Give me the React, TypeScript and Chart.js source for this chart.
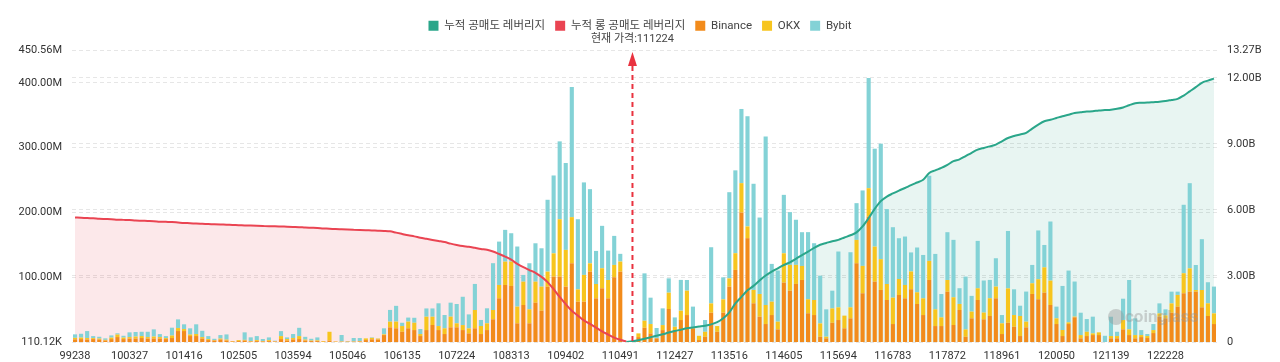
import React, { useEffect, useRef } from "react";
import { Chart, registerables } from "chart.js";

Chart.register(...registerables);

// ---------- data ----------
const CATEGORIES = [
  99238, 99359, 99480, 99601, 99722, 99843, 99964, 100085, 100206,
  100327, 100448, 100569, 100690, 100811, 100932, 101053, 101174, 101295,
  101416, 101537, 101658, 101779, 101900, 102021, 102142, 102263, 102384,
  102505, 102626, 102747, 102868, 102989, 103110, 103231, 103352, 103473,
  103594, 103715, 103836, 103957, 104078, 104320, 104441, 104683, 104925,
  105046, 105167, 105288, 105409, 105530, 105651, 105772, 105893, 106014,
  106135, 106256, 106377, 106498, 106619, 106740, 106861, 106982, 107103,
  107224, 107345, 107466, 107587, 107708, 107829, 107950, 108071, 108192,
  108313, 108434, 108555, 108676, 108797, 108918, 109039, 109160, 109281,
  109402, 109523, 109644, 109765, 109886, 110007, 110128, 110249, 110370,
  110491, 110612, 111217, 111701, 111822, 111943, 112064, 112185, 112306,
  112427, 112548, 112669, 112790, 112911, 113032, 113153, 113274, 113395,
  113516, 113637, 113758, 113879, 114000, 114121, 114242, 114363, 114484,
  114605, 114726, 114847, 114968, 115089, 115210, 115331, 115452, 115573,
  115694, 115815, 115936, 116057, 116178, 116299, 116420, 116541, 116662,
  116783, 116904, 117025, 117146, 117267, 117388, 117509, 117630, 117751,
  117872, 117993, 118114, 118235, 118356, 118477, 118598, 118719, 118840,
  118961, 119082, 119203, 119324, 119445, 119566, 119687, 119808, 119929,
  120050, 120171, 120292, 120413, 120534, 120655, 120776, 120897, 121018,
  121139, 121260, 121381, 121502, 121623, 121744, 121865, 121986, 122107,
  122228, 122349, 122470, 122591, 122712, 122833, 122954, 123075, 123196,
];

// liquidation volume per price level, millions USD
const BINANCE = [
  4.2, 4.6, 3.9, 4.6, 3.9, 2.3, 4.6, 7.7, 4.6,
  5.4, 5.4, 6.2, 5.4, 5.4, 5.4, 4.6, 6.2, 17.0,
  17.0, 9.3, 9.3, 5.4, 3.1, 2.3, 3.9, 2.3, 0.8,
  1.5, 2.3, 0.8, 1.5, 0.8, 1.5, 0.8, 4.6, 2.3,
  3.9, 4.6, 2.3, 1.5, 1.5, 0.5, 2.3, 0.5, 0.5,
  0.5, 0.5, 0.8, 3.1, 4.2, 3.9, 10.8, 22.7, 21.2,
  15.9, 21.2, 18.5, 9.3, 18.5, 26.3, 18.5, 12.4, 22.7,
  22.7, 18.5, 13.4, 21.2, 12.4, 18.5, 35.1, 67.5, 88.1,
  86.6, 28.9, 57.2, 28.9, 60.7, 48.4, 85.5, 100.9, 100.9,
  85.5, 121.6, 62.3, 62.3, 108.7, 67.5, 83.0, 67.5, 100.0,
  108.7, 0, 0, 7.7, 22.1, 13.4, 5.7, 18.5, 51.0,
  18.5, 34.0, 41.7, 21.2, 3.1, 8.2, 45.3, 15.9, 45.3,
  85.5, 111.3, 199.9, 160.3, 59.8, 39.1, 27.8, 41.7, 19.6,
  91.7, 79.3, 89.7, 95.8, 44.4, 41.7, 8.2, 5.7, 29.8,
  34.0, 21.2, 36.6, 121.6, 75.3, 193.7, 93.2, 80.4, 64.9,
  27.8, 72.6, 67.5, 81.5, 58.7, 41.7, 95.8, 24.7, 24.7,
  77.7, 26.3, 49.5, 8.2, 36.6, 64.9, 35.1, 40.2, 67.5,
  12.4, 29.8, 23.6, 9.3, 22.7, 74.2, 66.0, 76.2, 57.2,
  27.8, 9.3, 27.8, 38.2, 5.7, 9.3, 10.8, 10.8, 0,
  5.7, 5.7, 19.6, 10.8, 5.7, 7.7, 6.2, 13.9, 39.1,
  36.6, 45.3, 54.6, 75.3, 77.7, 77.7, 53.6, 40.2, 27.8,
];

const OKX = [
  2.3, 2.3, 2.3, 1.5, 1.5, 1.1, 2.3, 3.9, 2.3,
  2.3, 3.1, 3.1, 2.3, 3.1, 2.3, 1.5, 3.9, 4.6,
  3.1, 2.3, 3.1, 2.3, 1.5, 0.8, 1.5, 1.5, 0.8,
  1.5, 1.1, 0.8, 1.5, 0.8, 1.5, 0.5, 4.6, 2.3,
  2.3, 4.6, 1.5, 0.8, 1.1, 1.1, 13.6, 0.6, 0.5,
  0.5, 0.5, 0.8, 2.6, 2.3, 1.5, 1.1, 8.8, 10.4,
  8.8, 10.4, 11.3, 3.1, 20.6, 12.8, 6.2, 8.8, 16.5,
  6.2, 7.7, 7.7, 28.3, 12.4, 10.4, 14.4, 20.6, 36.0,
  37.6, 25.8, 36.0, 21.6, 32.5, 37.1, 23.2, 36.0, 88.6,
  56.7, 71.1, 19.0, 41.3, 12.8, 22.1, 30.9, 28.3, 19.0,
  15.5, 0, 0, 5.7, 10.8, 14.4, 0.5, 7.7, 25.2,
  5.1, 14.4, 37.6, 0, 6.6, 7.7, 14.4, 8.8, 20.6,
  12.8, 25.8, 45.3, 18.1, 20.6, 35.1, 29.4, 20.6, 11.9,
  45.3, 39.7, 29.4, 21.6, 21.6, 23.2, 20.6, 2.6, 22.1,
  19.6, 19.6, 17.0, 36.0, 42.2, 43.7, 54.1, 47.5, 24.7,
  40.7, 24.7, 20.6, 27.4, 18.1, 25.8, 29.4, 25.8, 13.4,
  18.1, 42.8, 9.3, 11.3, 10.4, 18.1, 10.4, 27.4, 18.1,
  16.5, 53.0, 18.1, 30.9, 8.8, 16.5, 30.9, 39.1, 37.6,
  8.8, 9.3, 2.6, 1.1, 5.1, 6.6, 2.6, 4.2, 0,
  3.6, 3.6, 14.4, 8.8, 5.1, 3.1, 3.1, 4.6, 5.1,
  4.6, 14.4, 18.1, 30.9, 36.0, 2.6, 26.7, 19.6, 16.5,
];

const BYBIT = [
  5.4, 5.9, 10.8, 3.1, 2.8, 2.3, 3.4, 1.9, 2.8,
  7.3, 7.0, 6.6, 8.2, 11.1, 4.6, 3.1, 12.1, 13.4,
  7.3, 9.6, 15.0, 9.7, 4.6, 2.0, 5.4, 8.0, 0,
  0, 11.6, 5.7, 6.2, 3.1, 4.2, 0.8, 7.7, 2.6,
  6.2, 12.8, 4.3, 2.8, 4.6, 0, 0, 0, 9.9,
  0.6, 5.3, 4.6, 0, 0.8, 0.3, 9.3, 18.1, 24.3,
  5.1, 6.2, 7.7, 7.7, 12.8, 12.8, 35.1, 20.6, 21.6,
  29.8, 43.7, 21.6, 40.2, 9.3, 23.2, 72.2, 66.9, 49.0,
  43.7, 92.7, 10.4, 71.1, 59.2, 59.2, 110.8, 120.1, 120.1,
  134.0, 200.9, 108.2, 142.7, 114.4, 51.0, 65.4, 45.3, 44.8,
  11.9, 0, 0, 0, 73.1, 40.7, 15.5, 25.8, 22.1,
  14.4, 47.5, 16.5, 33.5, 0, 18.1, 86.6, 0, 34.0,
  132.9, 127.8, 114.4, 170.0, 163.8, 117.9, 260.1, 58.3, 78.8,
  90.1, 81.5, 69.6, 52.1, 103.6, 87.6, 73.7, 42.2, 27.4,
  86.1, 0, 85.0, 56.7, 116.4, 170.0, 151.0, 178.2, 115.5,
  108.7, 62.9, 74.7, 29.4, 69.1, 66.9, 131.4, 85.5, 36.0,
  73.7, 88.6, 24.3, 81.5, 24.3, 73.1, 49.5, 28.3, 43.7,
  12.8, 88.6, 39.7, 15.9, 46.4, 28.3, 75.3, 34.5, 91.2,
  18.1, 68.0, 79.9, 54.1, 34.5, 19.6, 25.8, 0, 9.7,
  29.8, 6.6, 32.9, 76.2, 25.8, 7.7, 3.1, 9.3, 15.5,
  9.3, 18.1, 5.1, 105.6, 131.4, 38.6, 78.4, 32.5, 41.3,
];

// cumulative long leverage (billions), from the first category up to index 91
const CUM_LONG = [
  5.66, 5.65, 5.63, 5.62, 5.60, 5.59, 5.58, 5.56, 5.55,
  5.54, 5.52, 5.51, 5.50, 5.49, 5.47, 5.46, 5.45, 5.43,
  5.41, 5.40, 5.38, 5.37, 5.36, 5.35, 5.34, 5.33, 5.32,
  5.31, 5.30, 5.29, 5.28, 5.27, 5.26, 5.26, 5.25, 5.24,
  5.23, 5.22, 5.20, 5.19, 5.18, 5.16, 5.15, 5.13, 5.12,
  5.11, 5.10, 5.09, 5.08, 5.07, 5.06, 5.05, 5.03, 4.97,
  4.91, 4.85, 4.80, 4.74, 4.69, 4.64, 4.59, 4.54, 4.47,
  4.41, 4.36, 4.33, 4.28, 4.23, 4.19, 4.11, 4.00, 3.88,
  3.74, 3.55, 3.40, 3.27, 3.14, 2.96, 2.72, 2.40, 2.05,
  1.72, 1.42, 1.20, 0.98, 0.82, 0.65, 0.48, 0.34, 0.20,
  0.10, 0.02,
];

// cumulative short leverage (billions), starting at category index SHORT_START
const SHORT_START = 91;
const CUM_SHORT = [
  0.0, 0.03, 0.08, 0.15, 0.22, 0.28, 0.35, 0.43,
  0.50, 0.56, 0.62, 0.66, 0.70, 0.74, 0.80, 0.90, 1.08,
  1.35, 1.75, 2.05, 2.35, 2.55, 2.80, 3.02, 3.20, 3.35,
  3.50, 3.62, 3.78, 3.95, 4.11, 4.28, 4.42, 4.50, 4.58,
  4.64, 4.75, 4.85, 4.98, 5.25, 5.63, 6.05, 6.40, 6.61,
  6.75, 6.88, 7.00, 7.13, 7.25, 7.37, 7.68, 7.80, 7.91,
  8.05, 8.22, 8.30, 8.45, 8.60, 8.74, 8.82, 8.89, 8.97,
  9.12, 9.27, 9.36, 9.43, 9.50, 9.70, 9.88, 10.03, 10.10,
  10.18, 10.26, 10.33, 10.41, 10.44, 10.47, 10.49, 10.52, 10.54,
  10.56, 10.60, 10.66, 10.76, 10.85, 10.87, 10.88, 10.90, 10.92,
  10.95, 11.00, 11.05, 11.20, 11.39, 11.58, 11.78, 11.88, 11.97,
];

const LEFT_TICKS = [0.11012, 100, 200, 300, 400, 450.56]; // millions
const RIGHT_TICKS = [0, 3, 6, 9, 12, 13.27]; // billions
const LABEL_EVERY = 9;
const CURRENT_PRICE = 111224;

const SERIES_NAMES = ["누적 공매도 레버리지", "누적 롱 공매도 레버리지", "Binance", "OKX", "Bybit"];
const CURRENT_LABEL = "현재 가격:";

// ---------- styles ----------
const FONT = "Roboto, 'Noto Sans CJK KR', 'Noto Sans', sans-serif";
const C_GREEN = "#2aa68a";
const C_GREEN_FILL = "rgba(42,166,138,0.11)";
const C_RED = "#ea4452";
const C_RED_FILL = "rgba(234,68,82,0.12)";
const C_BINANCE = "#f28b1b";
const C_OKX = "#f7c51e";
const C_BYBIT = "#83d2d6";
const C_MARK = "#e9323f";

const fmtLeft = (v: number) => (v < 1 ? (v * 1000).toFixed(2) + "K" : v.toFixed(2) + "M");
const fmtRight = (v: number) => (v === 0 ? "0" : v.toFixed(2) + "B");

const legendSpacer = {
  id: "legendSpacer",
  afterInit(chart: any) {
    const legend = chart.legend;
    if (!legend || legend._patched) return;
    const orig = legend.fit.bind(legend);
    legend.fit = function () {
      orig();
      this.height = 40;
    };
    legend._patched = true;
  },
};

const priceMarker = {
  id: "priceMarker",
  afterDatasetsDraw(chart: any) {
    const { ctx, chartArea, scales } = chart;
    const xs = scales.x;
    let pos = 0;
    for (let i = 0; i < CATEGORIES.length - 1; i++) {
      if (CATEGORIES[i] <= CURRENT_PRICE && CURRENT_PRICE < CATEGORIES[i + 1]) {
        pos = i + (CURRENT_PRICE - CATEGORIES[i]) / (CATEGORIES[i + 1] - CATEGORIES[i]);
        break;
      }
    }
    const i0 = Math.floor(pos);
    const px0 = xs.getPixelForValue(i0);
    const px1 = xs.getPixelForValue(i0 + 1);
    const x = px0 + (px1 - px0) * (pos - i0);
    const tipY = chartArea.top + 2;
    const baseY = tipY + 14;
    ctx.save();
    ctx.strokeStyle = C_MARK;
    ctx.lineWidth = 2;
    ctx.setLineDash([5, 4]);
    ctx.beginPath();
    ctx.moveTo(x, chartArea.bottom - 1);
    ctx.lineTo(x, baseY);
    ctx.stroke();
    ctx.setLineDash([]);
    ctx.fillStyle = C_MARK;
    ctx.beginPath();
    ctx.moveTo(x, tipY);
    ctx.lineTo(x + 4.5, baseY);
    ctx.lineTo(x - 4.5, baseY);
    ctx.closePath();
    ctx.fill();

    // current price label
    ctx.fillStyle = "#444";
    ctx.font = `11px ${FONT}`;
    ctx.textAlign = "center";
    ctx.textBaseline = "middle";
    ctx.fillText(CURRENT_LABEL + CURRENT_PRICE, x, chartArea.top - 11);

    // watermark
    ctx.fillStyle = "rgba(150,150,150,0.42)";
    ctx.font = `bold 17px ${FONT}`;
    ctx.textAlign = "left";
    ctx.fillText("coinglass", 1125, chartArea.bottom - 24);
    ctx.beginPath();
    ctx.arc(1116, chartArea.bottom - 25, 8, 0, Math.PI * 2);
    ctx.fill();
    ctx.restore();
  },
};

export default function App() {
  const ref = useRef<HTMLCanvasElement | null>(null);

  useEffect(() => {
    if (!ref.current) return;
    const longData = CATEGORIES.map((_, i) => (i < CUM_LONG.length ? CUM_LONG[i] : null));
    const shortData = CATEGORIES.map((_, i) => (i >= SHORT_START ? CUM_SHORT[i - SHORT_START] : null));

    const chart = new Chart(ref.current, {
      type: "bar",
      data: {
        labels: CATEGORIES.map(String),
        datasets: [
          {
            type: "line",
            label: SERIES_NAMES[0],
            data: shortData,
            yAxisID: "y1",
            borderColor: C_GREEN,
            backgroundColor: C_GREEN_FILL,
            borderWidth: 2,
            pointRadius: 0,
            fill: "origin",
            cubicInterpolationMode: "monotone",
            order: 0,
          } as any,
          {
            type: "line",
            label: SERIES_NAMES[1],
            data: longData,
            yAxisID: "y1",
            borderColor: C_RED,
            backgroundColor: C_RED_FILL,
            borderWidth: 2,
            pointRadius: 0,
            fill: "origin",
            cubicInterpolationMode: "monotone",
            order: 0,
          } as any,
          {
            label: SERIES_NAMES[2],
            data: BINANCE,
            backgroundColor: C_BINANCE,
            yAxisID: "y",
            stack: "ex",
            order: 1,
            barPercentage: 0.68,
            categoryPercentage: 1,
          },
          {
            label: SERIES_NAMES[3],
            data: OKX,
            backgroundColor: C_OKX,
            yAxisID: "y",
            stack: "ex",
            order: 1,
            barPercentage: 0.68,
            categoryPercentage: 1,
          },
          {
            label: SERIES_NAMES[4],
            data: BYBIT,
            backgroundColor: C_BYBIT,
            yAxisID: "y",
            stack: "ex",
            order: 1,
            barPercentage: 0.68,
            categoryPercentage: 1,
          },
        ],
      },
      options: {
        animation: false,
        responsive: true,
        maintainAspectRatio: false,
        events: [],
        layout: { padding: { top: 10, left: 0, right: 0, bottom: 0 } },
        plugins: {
          filler: { drawTime: "beforeDatasetsDraw" } as any,
          tooltip: { enabled: false },
          legend: {
            position: "top",
            labels: {
              boxWidth: 10,
              boxHeight: 10,
              padding: 10,
              color: "#444",
              font: { family: FONT, size: 11.5 },
              generateLabels: (c: any) => {
                const items = Chart.defaults.plugins.legend.labels.generateLabels(c);
                return items.map((it: any) => {
                  const ds: any = c.data.datasets[it.datasetIndex];
                  const col = ds.type === "line" ? ds.borderColor : ds.backgroundColor;
                  return { ...it, fillStyle: col, strokeStyle: col, lineWidth: 0 };
                });
              },
            },
          },
        },
        scales: {
          x: {
            stacked: true,
            offset: true,
            grid: { display: false },
            border: { display: false },
            ticks: {
              autoSkip: false,
              maxRotation: 0,
              minRotation: 0,
              padding: 0,
              color: "#333",
              font: { family: FONT, size: 11 },
              callback: (_v: any, i: number) => (i % LABEL_EVERY === 0 ? String(CATEGORIES[i]) : ""),
            },
            afterFit: (s: any) => {
              s.height = 20;
            },
          },
          y: {
            type: "linear",
            position: "left",
            stacked: true,
            min: LEFT_TICKS[0],
            max: LEFT_TICKS[LEFT_TICKS.length - 1],
            grid: { color: "#e6e6e6", drawTicks: false },
            border: { display: false, dash: [4, 3] },
            ticks: {
              padding: 10,
              color: "#333",
              font: { family: FONT, size: 11 },
              callback: (v: any) => fmtLeft(Number(v)),
            },
            afterBuildTicks: (s: any) => {
              s.ticks = LEFT_TICKS.map((v) => ({ value: v }));
            },
            afterFit: (s: any) => {
              s.width = 72;
            },
          },
          y1: {
            type: "linear",
            position: "right",
            stacked: false,
            min: RIGHT_TICKS[0],
            max: RIGHT_TICKS[RIGHT_TICKS.length - 1],
            grid: { color: "#e6e6e6", drawTicks: false },
            border: { display: false, dash: [4, 3] },
            ticks: {
              padding: 10,
              color: "#333",
              font: { family: FONT, size: 11 },
              callback: (v: any) => fmtRight(Number(v)),
            },
            afterBuildTicks: (s: any) => {
              s.ticks = RIGHT_TICKS.map((v) => ({ value: v }));
            },
            afterFit: (s: any) => {
              s.width = 63;
            },
          },
        },
      },
      plugins: [legendSpacer, priceMarker],
    });
    return () => chart.destroy();
  }, []);

  return (
    <div style={{ position: "fixed", left: 0, top: 0, width: 1280, height: 362, background: "#fff" }}>
      <canvas ref={ref} />
    </div>
  );
}
